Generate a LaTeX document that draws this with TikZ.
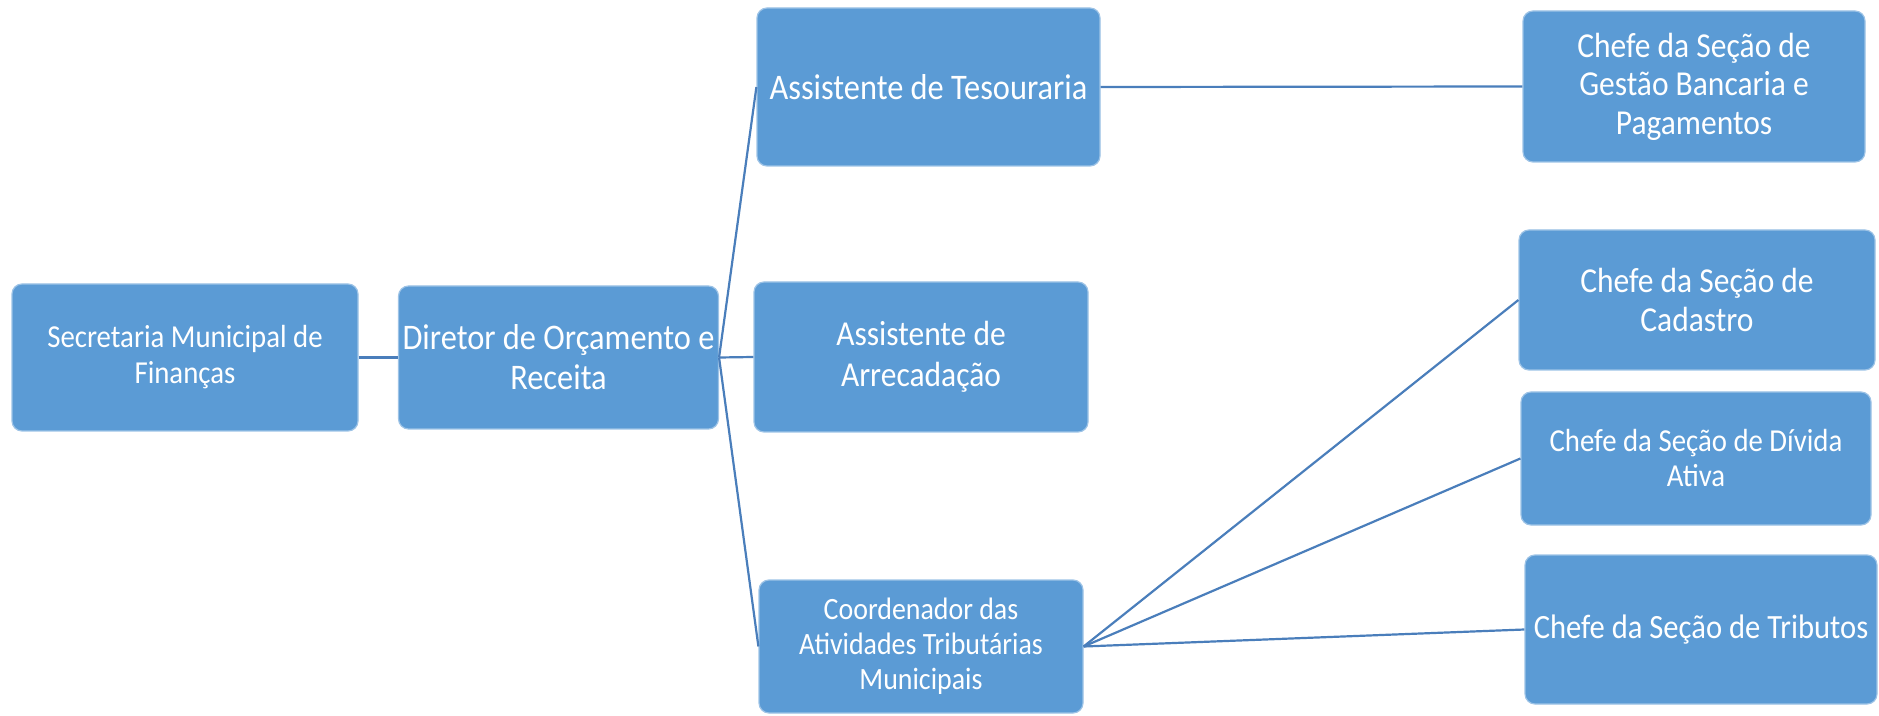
\documentclass[tikz,border=0pt]{standalone}
\usepackage{fontspec}
\setmainfont{Carlito}[FakeStretch=0.9]
\definecolor{caixaazul}{HTML}{5B9BD5}
\definecolor{linhaazul}{HTML}{4A7EBB}
\begin{document}
\begin{tikzpicture}[x=0.5pt,y=-0.5pt,
    caixa/.style={draw=caixaazul!60!white,line width=0.6pt,fill=caixaazul,rounded corners=5pt,
        text=white,align=center,inner sep=2pt},
    liga/.style={draw=linhaazul,line width=1.1pt}]
    \useasboundingbox (0,0) rectangle (1879,716);
    \node [caixa,minimum width=173pt,minimum height=73.5pt,font=\fontsize{16}{18}\selectfont] (sec) at (185,357.5) {Secretaria Municipal de\\Finanças};
    \node [caixa,minimum width=159.5pt,minimum height=71.5pt,font=\fontsize{18}{20}\selectfont] (dir) at (558.5,357.5) {Diretor de Orçamento e\\Receita};
    \node [caixa,minimum width=171.5pt,minimum height=79pt,font=\fontsize{18}{21}\selectfont] (tes) at (928.5,87) {Assistente de Tesouraria};
    \node [caixa,minimum width=167pt,minimum height=75pt,font=\fontsize{17.5}{20.5}\selectfont] (arr) at (921,357) {Assistente de\\Arrecadação};
    \node [caixa,minimum width=162pt,minimum height=66.5pt,font=\fontsize{15.5}{17.5}\selectfont] (coo) at (921,646.5) {Coordenador das\\Atividades Tributárias\\Municipais};
    \node [caixa,minimum width=171pt,minimum height=75.5pt,font=\fontsize{17.5}{19.25}\selectfont] (ges) at (1694,86.5) {Chefe da Seção de\\Gestão Bancaria e\\Pagamentos};
    \node [caixa,minimum width=178pt,minimum height=70pt,font=\fontsize{17.5}{19.5}\selectfont] (cad) at (1697,300) {Chefe da Seção de\\Cadastro};
    \node [caixa,minimum width=175pt,minimum height=66.5pt,font=\fontsize{16}{17.5}\selectfont] (div) at (1696,458.5) {Chefe da Seção de Dívida\\Ativa};
    \node [caixa,minimum width=176pt,minimum height=74.5pt,font=\fontsize{17}{19}\selectfont] (tri) at (1701,629.5) {Chefe da Seção de Tributos};
    \draw [liga] (sec.east) -- (dir.west);
    \draw [liga] (dir.east) -- (tes.west);
    \draw [liga] (dir.east) -- (arr.west);
    \draw [liga] (dir.east) -- (coo.west);
    \draw [liga] (tes.east) -- (ges.west);
    \draw [liga] (coo.east) -- (cad.west);
    \draw [liga] (coo.east) -- (div.west);
    \draw [liga] (coo.east) -- (tri.west);
\end{tikzpicture}
\end{document}
